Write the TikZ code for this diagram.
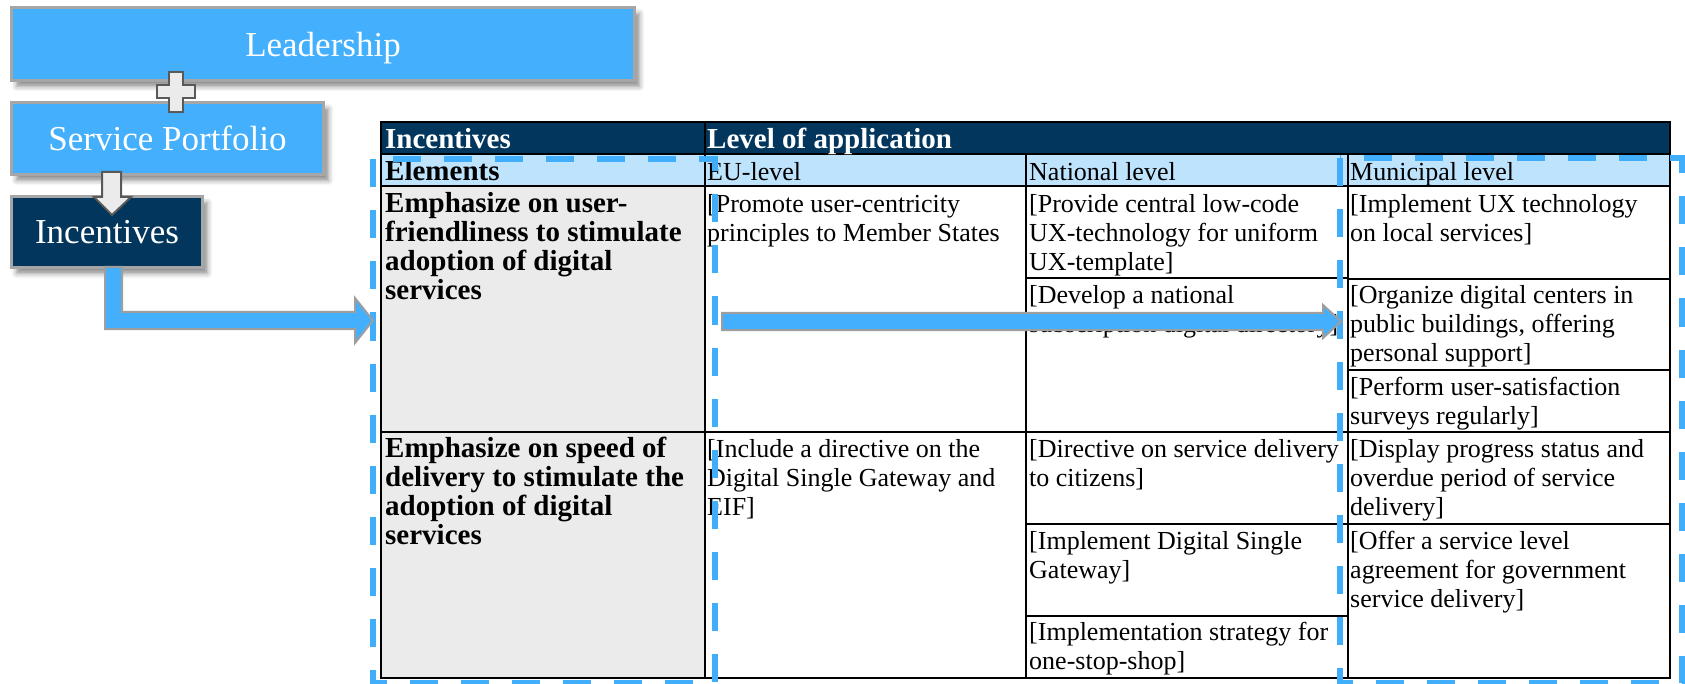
\documentclass[tikz,border=0pt]{standalone}
\usepackage{fontspec}
\setmainfont{Liberation Serif}
\usetikzlibrary{shadows.blur}
\definecolor{boxblue}{HTML}{43AFFD}
\definecolor{navy}{HTML}{03365C}
\definecolor{hdrblue}{HTML}{BEE3FD}
\definecolor{cellgray}{HTML}{EBEBEB}
\definecolor{boxborder}{HTML}{A6A6A6}
\definecolor{dashblue}{HTML}{41AEFC}
\definecolor{arrowgray}{HTML}{9E9E9E}
\definecolor{signgray}{HTML}{595959}
\newcommand\fst{\rule{0pt}{21pt}}
\begin{document}
\begin{tikzpicture}[x=1pt,y=-1pt,
  bigbox/.style={draw=boxborder, line width=3pt, anchor=north west, inner sep=0pt,
    text=white, font=\fontsize{35}{40}\selectfont, text depth=0pt,
    blur shadow={shadow xshift=5pt, shadow yshift=-6pt, shadow blur radius=5pt, shadow opacity=45}},
  cellr/.style={anchor=north west, inner sep=0pt, align=left, font=\fontsize{26}{29}\selectfont},
  cellb/.style={anchor=north west, inner sep=0pt, align=left, font=\fontsize{29}{29}\selectfont\bfseries},
  grid/.style={draw=black, line width=2.7pt},
  dashbox/.style={draw=dashblue, line width=6pt, dash pattern=on 28pt off 23pt},
  blockarrow/.style={fill=boxblue, draw=arrowgray, line width=2pt},
  sign/.style={fill=cellgray, draw=signgray, line width=2pt}]
\useasboundingbox (0,0) rectangle (1685,684);

% left boxes
\node[bigbox, fill=boxblue, minimum width=623pt, minimum height=73pt] (lead) at (10,6) {Leadership};
\node[bigbox, fill=boxblue, minimum width=312pt, minimum height=72pt] (serv) at (10,101) {Service Portfolio};
\node[bigbox, fill=navy, minimum width=191pt, minimum height=71pt] (inc) at (10,195) {Incentives};

% table fills
\fill[navy] (381,122) rectangle (1670,154);
\fill[hdrblue] (381,154) rectangle (1670,186);
\fill[cellgray] (381,186) rectangle (705,678);

% table lines
\draw[grid] (381,122) rectangle (1670,678);
\draw[grid] (381,154) -- (1670,154);
\draw[grid] (381,186) -- (1670,186);
\draw[grid] (381,432) -- (1670,432);
\draw[grid] (705,122) -- (705,678);
\draw[grid] (1026,154) -- (1026,678);
\draw[grid] (1348,154) -- (1348,678);
\draw[grid] (1026,278) -- (1348,278);
\draw[grid] (1026,524) -- (1348,524);
\draw[grid] (1026,616) -- (1348,616);
\draw[grid] (1348,279) -- (1670,279);
\draw[grid] (1348,370) -- (1670,370);
\draw[grid] (1348,524) -- (1670,524);

% header texts
\node[cellb, text=white] (h1) at (385,127) {\fst Incentives};
\node[cellb, text=white] (h2) at (707,127) {\fst Level of application};
\node[cellb] (s1) at (385,159) {\fst Elements};
\node[cellr] (s2) at (707,159) {\fst EU-level};
\node[cellr] (s3) at (1029,159) {\fst National level};
\node[cellr] (s4) at (1350,159) {\fst Municipal level};

% row 1
\node[cellb] (e1) at (385,191) {\fst Emphasize on user-\\friendliness to stimulate\\adoption of digital\\services};
\node[cellr] (eu1) at (707,191) {\fst [Promote user-centricity\\principles to Member States};
\node[cellr] (n1) at (1029,191) {\fst [Provide central low-code\\UX-technology for uniform\\UX-template]};
\node[cellr] (n2) at (1029,282) {\fst [Develop a national\\subscription digital directory]};
\node[cellr] (m1) at (1350,191) {\fst [Implement UX technology\\on local services]};
\node[cellr] (m2) at (1350,282) {\fst [Organize digital centers in\\public buildings, offering\\personal support]};
\node[cellr] (m3) at (1350,374) {\fst [Perform user-satisfaction\\surveys regularly]};

% row 2
\node[cellb] (e2) at (385,436) {\fst Emphasize on speed of\\delivery to stimulate the\\adoption of digital\\services};
\node[cellr] (eu2) at (707,436) {\fst [Include a directive on the\\Digital Single Gateway and\\EIF]};
\node[cellr] (n3) at (1029,436) {\fst [Directive on service delivery\\to citizens]};
\node[cellr] (n4) at (1029,528) {\fst [Implement Digital Single\\Gateway]};
\node[cellr] (n5) at (1029,619) {\fst [Implementation strategy for\\one-stop-shop]};
\node[cellr] (m4) at (1350,436) {\fst [Display progress status and\\overdue period of service\\delivery]};
\node[cellr] (m5) at (1350,528) {\fst [Offer a service level\\agreement for government\\service delivery]};

% dashed highlight boxes
\draw[dashbox] (372.5,159.5) rectangle (714.5,683);
\draw[dashbox] (1339.5,158) rectangle (1682,683);

% plus sign between Leadership and Service Portfolio
\draw[sign] (169,72) -- (183,72) -- (183,85) -- (195,85) -- (195,98) -- (183,98) -- (183,112)
  -- (169,112) -- (169,98) -- (157,98) -- (157,85) -- (169,85) -- cycle;

% down arrow from Service Portfolio to Incentives
\draw[sign] (102,172) -- (121,172) -- (121,197) -- (131,197) -- (112,215) -- (94,197) -- (102,197) -- cycle;

% elbow arrow from Incentives to table
\draw[blockarrow] (105,267) -- (122,267) -- (122,312) -- (355,312) -- (355,298) -- (373,320.5)
  -- (355,343) -- (355,329) -- (105,329) -- cycle;

% arrow across the table
\draw[blockarrow] (722,313) -- (1323,313) -- (1323,305) -- (1341,321.5) -- (1323,338)
  -- (1323,330) -- (722,330) -- cycle;
\end{tikzpicture}
\end{document}
